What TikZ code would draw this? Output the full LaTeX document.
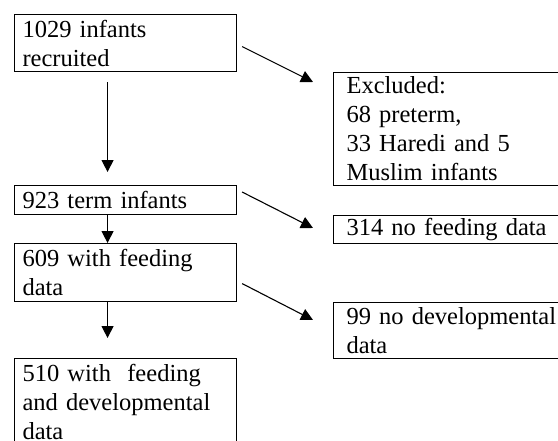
\documentclass[tikz,border=0pt]{standalone}
\usepackage{fontspec}
\setmainfont{Liberation Serif}
\usetikzlibrary{arrows.meta}
\begin{document}
\begin{tikzpicture}[x=1pt,y=1pt,
  box/.style={draw=black, line width=1.1pt, rectangle, align=left,
    inner ysep=0pt, anchor=north west,
    font=\fontsize{24.5}{29}\selectfont},
  lbox/.style={box, text width=206pt, inner xsep=8pt},
  rbox/.style={box, text width=221pt, inner xsep=13pt},
  arr/.style={line width=1.1pt, -{Triangle[length=12pt,width=12pt]}}]
\useasboundingbox (0,0) rectangle (558,-440);
\clip (0,0) rectangle (558,-440);
\fill[white] (0,0) rectangle (558,-440);
% left column
\node[lbox, minimum height=57pt] (A) at (14,-14) {1029 infants\\recruited};
\node[lbox, minimum height=29pt] (B) at (14,-185) {923 term infants};
\node[lbox, minimum height=58pt] (C) at (14,-243) {609 with feeding\\data};
\node[lbox, minimum height=86pt] (D) at (14,-358) {510 with\ \ feeding\\and developmental\\data};
% right column
\node[rbox, minimum height=113pt] (E) at (333,-72) {Excluded:\\68 preterm,\\33 Haredi and 5\\Muslim infants};
\node[rbox, minimum height=28pt] (F) at (333,-215) {314 no feeding data};
\node[rbox, minimum height=56pt] (G) at (333,-302) {99 no developmental\\data};
% vertical arrows
\draw[arr, shorten <=10pt, shorten >=13pt] ([xshift=-18pt]A.south) -- ([xshift=-18pt]B.north);
\draw[arr] ([xshift=-18pt]B.south) -- ([xshift=-18pt]C.north);
\draw[arr, shorten >=20pt] ([xshift=-18pt]C.south) -- ([xshift=-18pt]D.north);
% diagonal arrows
\draw[arr] ([shift={(5pt,-3.5pt)}]A.east) -- ([shift={(-20pt,-10pt)}]E.north west);
\draw[arr] ([shift={(5pt,-7pt)}]B.north east) -- ([shift={(-20pt,-13pt)}]F.north west);
\draw[arr] ([shift={(5pt,-11pt)}]C.east) -- ([shift={(-20pt,-18pt)}]G.north west);
\end{tikzpicture}
\end{document}
